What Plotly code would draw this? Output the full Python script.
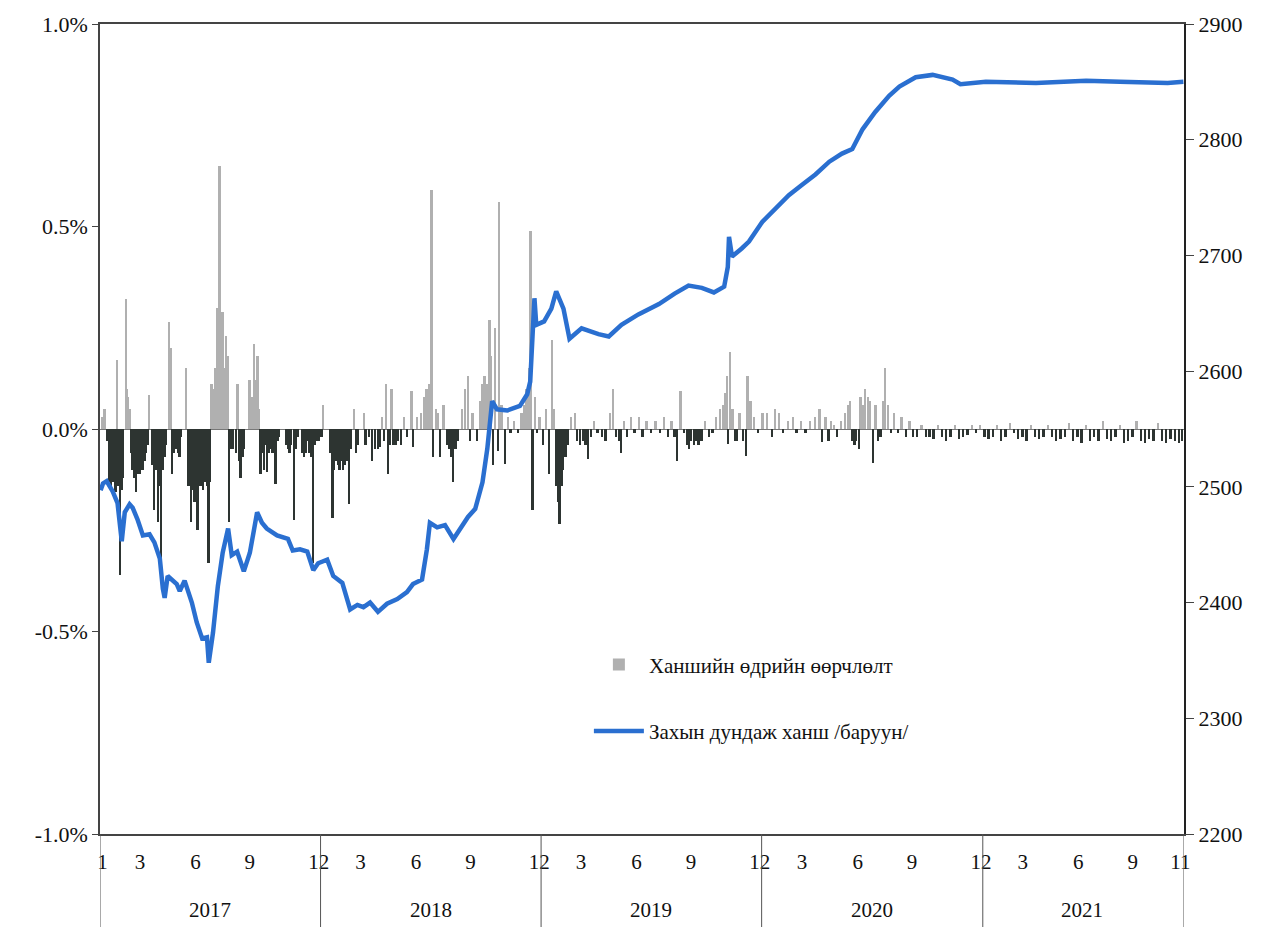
import plotly.graph_objects as go

# ---------------- data ----------------
line_dates = ["2017-01-02","2017-01-06","2017-01-12","2017-01-22","2017-01-30","2017-02-06","2017-02-11","2017-02-19","2017-02-24","2017-03-04","2017-03-13","2017-03-24","2017-04-01","2017-04-10","2017-04-15","2017-04-18","2017-04-23","2017-05-08","2017-05-13","2017-05-21","2017-06-02","2017-06-10","2017-06-19","2017-06-27","2017-06-30","2017-07-07","2017-07-15","2017-07-23","2017-08-01","2017-08-07","2017-08-16","2017-08-27","2017-09-06","2017-09-18","2017-09-26","2017-10-04","2017-10-21","2017-11-08","2017-11-16","2017-11-28","2017-12-10","2017-12-20","2017-12-28","2018-01-12","2018-01-22","2018-02-06","2018-02-19","2018-03-03","2018-03-13","2018-03-24","2018-04-06","2018-04-21","2018-05-08","2018-05-24","2018-06-03","2018-06-18","2018-06-26","2018-07-01","2018-07-13","2018-07-26","2018-08-09","2018-08-20","2018-09-02","2018-09-14","2018-09-26","2018-10-04","2018-10-12","2018-10-20","2018-11-06","2018-11-27","2018-12-09","2018-12-14","2018-12-16","2018-12-19","2018-12-21","2018-12-24","2019-01-06","2019-01-18","2019-01-26","2019-02-07","2019-02-17","2019-03-09","2019-04-06","2019-04-23","2019-05-14","2019-06-11","2019-07-15","2019-08-10","2019-09-02","2019-09-24","2019-10-14","2019-10-31","2019-11-06","2019-11-08","2019-11-13","2019-11-29","2019-12-11","2020-01-02","2020-01-23","2020-02-15","2020-03-08","2020-03-30","2020-04-22","2020-05-13","2020-05-30","2020-06-16","2020-07-07","2020-07-30","2020-08-16","2020-09-12","2020-10-10","2020-11-12","2020-11-25","2021-01-06","2021-03-30","2021-06-21","2021-08-16","2021-11-03","2021-11-29"]
line_values = [2497,2503,2505,2496,2486,2453,2478,2485,2482,2472,2458,2459,2452,2438,2412,2404,2423,2416,2410,2419,2400,2383,2369,2370,2348,2374,2414,2443,2464,2441,2444,2427,2443,2478,2469,2464,2458,2455,2445,2446,2444,2428,2434,2437,2423,2417,2394,2398,2396,2400,2392,2399,2403,2409,2416,2420,2446,2469,2465,2467,2455,2464,2474,2481,2504,2533,2574,2567,2566,2570,2580,2591,2610,2655,2663,2640,2643,2654,2669,2654,2628,2637,2632,2630,2640,2649,2658,2667,2674,2672,2668,2673,2690,2716,2699,2706,2712,2729,2740,2752,2761,2770,2781,2788,2792,2809,2824,2838,2846,2854,2856,2852,2848,2850,2849,2851,2850,2849,2850]

bar_dates = ["2017-01-05","2017-01-09","2017-01-13","2017-01-17","2017-01-20","2017-01-23","2017-01-26","2017-01-27","2017-01-29","2017-02-01","2017-02-03","2017-02-06","2017-02-09","2017-02-13","2017-02-15","2017-02-17","2017-02-20","2017-02-22","2017-02-24","2017-02-27","2017-03-02","2017-03-06","2017-03-09","2017-03-13","2017-03-16","2017-03-19","2017-03-22","2017-03-24","2017-03-29","2017-04-01","2017-04-04","2017-04-07","2017-04-10","2017-04-12","2017-04-15","2017-04-18","2017-04-21","2017-04-26","2017-04-28","2017-05-01","2017-05-04","2017-05-07","2017-05-10","2017-05-13","2017-05-16","2017-05-24","2017-05-27","2017-05-30","2017-06-01","2017-06-04","2017-06-07","2017-06-10","2017-06-12","2017-06-15","2017-06-18","2017-06-21","2017-06-24","2017-06-27","2017-06-30","2017-07-03","2017-07-05","2017-07-08","2017-07-11","2017-07-14","2017-07-18","2017-07-21","2017-07-23","2017-07-26","2017-07-29","2017-08-01","2017-08-03","2017-08-06","2017-08-09","2017-08-15","2017-08-17","2017-08-20","2017-08-22","2017-08-25","2017-08-28","2017-09-06","2017-09-10","2017-09-13","2017-09-16","2017-09-19","2017-09-22","2017-09-24","2017-09-27","2017-09-30","2017-10-03","2017-10-05","2017-10-08","2017-10-11","2017-10-14","2017-10-19","2017-10-22","2017-10-25","2017-11-05","2017-11-08","2017-11-11","2017-11-14","2017-11-19","2017-11-22","2017-11-25","2017-12-02","2017-12-05","2017-12-08","2017-12-11","2017-12-14","2017-12-17","2017-12-20","2017-12-23","2017-12-27","2017-12-30","2018-01-03","2018-01-06","2018-01-18","2018-01-21","2018-01-24","2018-01-27","2018-01-30","2018-02-02","2018-02-05","2018-02-08","2018-02-11","2018-02-14","2018-02-18","2018-02-21","2018-02-26","2018-03-01","2018-03-04","2018-03-14","2018-03-17","2018-03-23","2018-03-28","2018-04-01","2018-04-06","2018-04-10","2018-04-13","2018-04-16","2018-04-20","2018-04-23","2018-04-26","2018-04-29","2018-05-02","2018-05-06","2018-05-10","2018-05-14","2018-05-19","2018-05-25","2018-06-01","2018-06-03","2018-06-10","2018-06-17","2018-06-22","2018-06-26","2018-06-30","2018-07-04","2018-07-07","2018-07-11","2018-07-14","2018-07-18","2018-07-24","2018-07-30","2018-08-02","2018-08-06","2018-08-09","2018-08-13","2018-08-17","2018-08-24","2018-08-29","2018-09-02","2018-09-06","2018-09-10","2018-09-17","2018-09-22","2018-09-26","2018-09-30","2018-10-04","2018-10-08","2018-10-11","2018-10-14","2018-10-17","2018-10-22","2018-10-24","2018-10-28","2018-11-03","2018-11-08","2018-11-12","2018-11-18","2018-11-24","2018-11-30","2018-12-04","2018-12-08","2018-12-12","2018-12-15","2018-12-18","2018-12-22","2018-12-26","2018-12-30","2019-01-04","2019-01-09","2019-01-15","2019-01-19","2019-01-23","2019-01-26","2019-01-29","2019-02-01","2019-02-04","2019-02-07","2019-02-11","2019-02-15","2019-02-20","2019-02-26","2019-03-02","2019-03-07","2019-03-12","2019-03-16","2019-03-20","2019-03-25","2019-03-30","2019-04-05","2019-04-12","2019-04-18","2019-04-25","2019-04-30","2019-05-05","2019-05-10","2019-05-14","2019-05-19","2019-05-24","2019-05-30","2019-06-05","2019-06-12","2019-06-18","2019-06-25","2019-07-02","2019-07-10","2019-07-17","2019-07-24","2019-07-30","2019-08-05","2019-08-10","2019-08-14","2019-08-20","2019-08-26","2019-08-31","2019-09-03","2019-09-07","2019-09-11","2019-09-15","2019-09-19","2019-09-24","2019-09-30","2019-10-06","2019-10-12","2019-10-18","2019-10-24","2019-10-29","2019-11-02","2019-11-05","2019-11-07","2019-11-10","2019-11-14","2019-11-18","2019-11-22","2019-11-26","2019-12-01","2019-12-06","2019-12-09","2019-12-14","2019-12-20","2019-12-26","2020-01-03","2020-01-10","2020-01-18","2020-01-24","2020-01-30","2020-02-06","2020-02-14","2020-02-22","2020-02-28","2020-03-07","2020-03-14","2020-03-22","2020-03-30","2020-04-06","2020-04-10","2020-04-16","2020-04-21","2020-04-25","2020-04-30","2020-05-05","2020-05-12","2020-05-18","2020-05-23","2020-05-27","2020-05-31","2020-06-03","2020-06-06","2020-06-10","2020-06-13","2020-06-17","2020-06-21","2020-06-25","2020-06-29","2020-07-04","2020-07-08","2020-07-12","2020-07-16","2020-07-20","2020-07-24","2020-07-28","2020-08-02","2020-08-08","2020-08-14","2020-08-20","2020-08-27","2020-09-02","2020-09-08","2020-09-15","2020-09-22","2020-09-29","2020-10-05","2020-10-12","2020-10-19","2020-10-26","2020-11-02","2020-11-09","2020-11-16","2020-11-23","2020-11-30","2020-12-07","2020-12-14","2020-12-21","2020-12-28","2021-01-04","2021-01-11","2021-01-18","2021-01-25","2021-02-01","2021-02-08","2021-02-15","2021-02-22","2021-03-01","2021-03-08","2021-03-15","2021-03-22","2021-03-29","2021-04-05","2021-04-12","2021-04-19","2021-04-26","2021-05-03","2021-05-10","2021-05-17","2021-05-24","2021-05-31","2021-06-07","2021-06-14","2021-06-21","2021-06-28","2021-07-05","2021-07-12","2021-07-19","2021-07-26","2021-08-02","2021-08-09","2021-08-16","2021-08-23","2021-08-30","2021-09-06","2021-09-13","2021-09-20","2021-09-27","2021-10-04","2021-10-11","2021-10-18","2021-10-25","2021-11-01","2021-11-08","2021-11-15","2021-11-22","2021-11-27"]
bar_values = [0.03,0.05,-0.03,-0.13,-0.14,-0.13,-0.15,-0.155,0.17,-0.14,-0.36,-0.15,-0.12,0.32,0.10,0.08,0.05,-0.06,-0.10,-0.12,-0.155,-0.11,-0.11,-0.10,-0.08,-0.06,-0.04,0.085,-0.09,-0.20,-0.10,-0.23,-0.14,-0.345,-0.10,-0.07,-0.04,0.265,0.20,-0.11,-0.06,-0.05,-0.06,-0.07,-0.02,0.15,-0.14,-0.14,-0.23,-0.15,-0.18,-0.15,-0.25,-0.14,-0.14,-0.15,-0.13,-0.14,-0.33,-0.13,0.11,0.10,0.15,0.30,0.65,0.22,0.29,0.15,0.23,0.18,-0.23,-0.05,-0.05,-0.06,0.11,-0.08,-0.12,-0.07,-0.05,0.12,0.08,0.21,0.12,0.18,0.05,-0.11,-0.06,-0.10,-0.04,-0.105,-0.06,-0.05,-0.06,-0.135,-0.03,-0.02,-0.04,-0.05,-0.06,-0.04,-0.225,-0.05,-0.02,-0.06,-0.07,-0.06,-0.03,-0.06,-0.07,-0.33,-0.04,-0.03,-0.03,-0.02,0.06,-0.06,-0.22,-0.10,-0.08,-0.09,-0.10,-0.08,-0.10,-0.09,-0.08,-0.185,-0.05,0.05,-0.06,-0.04,0.04,-0.04,-0.02,-0.08,-0.05,-0.05,-0.045,0.03,-0.03,0.11,-0.11,-0.04,0.10,-0.04,-0.04,-0.03,-0.04,0.03,-0.02,0.095,-0.045,0.03,0.04,0.08,0.10,0.11,0.59,-0.07,0.05,0.04,-0.07,0.06,-0.04,-0.05,-0.07,-0.13,-0.05,-0.03,0.05,0.10,0.13,-0.03,0.04,-0.03,0.07,0.11,0.13,0.11,0.27,0.18,-0.09,0.25,-0.055,0.56,0.06,-0.087,0.03,-0.01,0.02,-0.01,0.04,0.06,0.10,0.15,0.49,-0.20,0.08,-0.01,0.03,-0.04,0.05,-0.11,0.22,0.05,-0.14,-0.18,-0.235,-0.14,-0.10,-0.07,-0.04,0.03,0.04,-0.03,-0.04,-0.03,-0.04,-0.075,-0.02,0.02,-0.01,-0.02,-0.03,0.04,0.10,-0.02,-0.03,-0.06,0.02,-0.02,0.03,-0.01,0.03,-0.02,0.02,-0.01,0.02,-0.01,0.03,-0.02,0.02,-0.02,-0.078,0.095,-0.01,-0.04,-0.05,-0.03,-0.04,-0.03,-0.04,-0.03,0.02,-0.02,-0.01,0.03,0.05,0.06,0.09,0.13,-0.037,0.19,0.05,-0.03,-0.03,0.04,-0.03,-0.066,0.13,0.07,0.03,-0.01,0.04,0.04,-0.02,0.05,0.04,-0.01,0.02,0.03,-0.01,0.02,-0.01,0.02,0.03,0.05,-0.033,0.03,-0.03,0.02,0.01,-0.02,0.02,0.04,0.06,0.07,-0.03,-0.04,-0.03,-0.05,0.08,0.06,0.10,0.08,0.07,-0.083,0.06,-0.03,-0.02,0.07,0.15,0.06,-0.01,0.04,-0.01,0.03,-0.02,0.02,-0.02,-0.02,0.01,-0.02,-0.02,-0.025,0.01,-0.02,-0.03,-0.02,0.01,-0.025,-0.02,-0.015,0.01,-0.01,0.01,-0.02,-0.025,-0.02,0.01,-0.03,-0.02,0.015,-0.01,-0.025,-0.02,-0.03,0.01,-0.02,-0.025,-0.02,0.01,-0.02,-0.03,-0.025,-0.02,0.015,-0.03,-0.02,-0.035,0.01,-0.03,-0.02,-0.03,0.02,-0.025,-0.03,-0.02,0.01,-0.035,-0.03,-0.02,0.02,-0.03,-0.035,-0.025,-0.03,0.015,-0.03,-0.035,-0.025,-0.03,-0.035,-0.03]

month_tick_dates = ["2017-01-05","2017-03-08","2017-06-08","2017-09-06","2017-12-29",
                    "2018-03-08","2018-06-08","2018-09-06","2018-12-29",
                    "2019-03-08","2019-06-08","2019-09-06","2019-12-29",
                    "2020-03-08","2020-06-08","2020-09-06","2020-12-29",
                    "2021-03-08","2021-06-08","2021-09-06","2021-11-24"]
month_tick_labels = ["1","3","6","9","12","3","6","9","12","3","6","9","12","3","6","9","12","3","6","9","11"]
pct_tick_values = [-1.0, -0.5, 0.0, 0.5, 1.0]
pct_tick_labels = ["-1.0%", "-0.5%", "0.0%", "0.5%", "1.0%"]
year_labels = ["2017","2018","2019","2020","2021"]
year_centers = ["2017-07-02","2018-07-02","2019-07-02","2020-07-02","2021-06-15"]
year_bounds = ["2017-01-01","2018-01-01","2019-01-01","2020-01-01","2021-01-01","2021-11-30"]

bar_name = "Ханшийн өдрийн өөрчлөлт"
line_name = "Захын дундаж ханш /баруун/"

# ---------------- figure ----------------
FONT = "Liberation Serif, Times New Roman, serif"
POS_COLOR = "#b0b0b0"
NEG_COLOR = "#2d3431"
DAY_MS = 86400000

pos_x = [d for d, v in zip(bar_dates, bar_values) if v >= 0]
pos_y = [v for v in bar_values if v >= 0]
neg_x = [d for d, v in zip(bar_dates, bar_values) if v < 0]
neg_y = [v for v in bar_values if v < 0]

fig = go.Figure()
fig.add_trace(go.Bar(x=pos_x, y=pos_y, name=bar_name, marker=dict(color=POS_COLOR, line=dict(width=0)),
                     width=3 * DAY_MS, yaxis="y", legendgroup="a", legendrank=1))
fig.add_trace(go.Bar(x=neg_x, y=neg_y, name=bar_name, marker=dict(color=NEG_COLOR, line=dict(width=0)),
                     width=3 * DAY_MS, yaxis="y", showlegend=False, legendgroup="a"))
fig.add_trace(go.Scatter(x=line_dates, y=line_values, name=line_name, mode="lines",
                         line=dict(color="#2a6fd0", width=4.5), yaxis="y2", legendgroup="b", legendrank=2))

shapes = []
for b in year_bounds:
    shapes.append(dict(type="line", xref="x", yref="paper", x0=b, x1=b, y0=0, y1=-0.14,
                       line=dict(color="#555555", width=1)))

annotations = []
for c, t in zip(year_centers, year_labels):
    annotations.append(dict(x=c, y=-0.094, xref="x", yref="paper", text=t, showarrow=False,
                            font=dict(family=FONT, size=21, color="#111111"), yanchor="middle"))

fig.update_layout(
    width=1266, height=919,
    margin=dict(l=92, r=90, t=16, b=93),
    paper_bgcolor="white", plot_bgcolor="white",
    barmode="overlay", bargap=0,
    font=dict(family=FONT, size=20, color="#111111"),
    showlegend=True,
    legend=dict(x=0.451, y=0.234, xanchor="left", yanchor="top", bgcolor="rgba(0,0,0,0)",
                font=dict(family=FONT, size=21, color="#111111"), tracegroupgap=36,
                traceorder="grouped", itemwidth=50),
    xaxis=dict(type="date", range=["2017-01-01", "2021-11-30"], showgrid=False, automargin=False,
               tickmode="array", tickvals=month_tick_dates, ticktext=month_tick_labels,
               ticks="outside", ticklen=8, tickcolor="rgba(0,0,0,0)",
               showline=True, linecolor="#444444", linewidth=1.5, mirror=True,
               tickfont=dict(family=FONT, size=21), zeroline=False),
    yaxis=dict(range=[-1.0, 1.0], tickmode="array", tickvals=pct_tick_values, ticktext=pct_tick_labels,
               showgrid=False, zeroline=True, zerolinecolor="#777777", zerolinewidth=1, automargin=False,
               showline=True, linecolor="#444444", linewidth=1.5, ticks="outside", ticklen=6,
               tickcolor="#444444", tickfont=dict(family=FONT, size=22)),
    yaxis2=dict(range=[2200, 2900], dtick=100, overlaying="y", side="right", showgrid=False,
                zeroline=False, showline=True, linecolor="#222222", linewidth=2, ticks="outside",
                automargin=False, ticklen=8, tickcolor="#444444", tickfont=dict(family=FONT, size=22)),
    shapes=shapes, annotations=annotations,
)

fig.write_html("out.html")
